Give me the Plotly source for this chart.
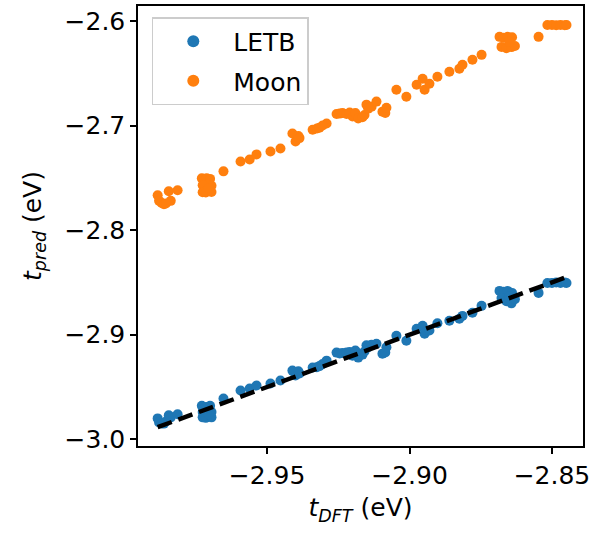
import plotly.graph_objects as go

# t_DFT values (eV)
t_dft = [
    -2.9884, -2.9879, -2.9870, -2.9862, -2.9855, -2.9845, -2.9838, -2.9814,
    -2.9729, -2.9720, -2.9712, -2.9700, -2.9726, -2.9695, -2.9726, -2.9715, -2.9695, -2.9705,
    -2.9653, -2.9593, -2.9561, -2.9537, -2.9488, -2.9453,
    -2.9411, -2.9400, -2.9390, -2.9386,
    -2.9340, -2.9325, -2.9316, -2.9291, -2.9305,
    -2.9256, -2.9245, -2.9235, -2.9221, -2.9210,
    -2.9200, -2.9190, -2.9180, -2.9165, -2.9158,
    -2.9151, -2.9145, -2.9133, -2.9116, -2.9095, -2.9085, -2.9081,
    -2.9046, -2.9011, -2.8975, -2.8954, -2.8947, -2.8930, -2.8902,
    -2.8860, -2.8825, -2.8814, -2.8779, -2.8747,
    -2.8684, -2.8670, -2.8655, -2.8640, -2.8677, -2.8660, -2.8642, -2.8630, -2.8650,
    -2.8547,
    -2.8516, -2.8500, -2.8485, -2.8470, -2.8455, -2.8449,
]

# predicted hopping, LETB model
t_letb = [
    -2.9800, -2.9840, -2.9848, -2.9850, -2.9830, -2.9770, -2.9790, -2.9760,
    -2.9680, -2.9700, -2.9690, -2.9680, -2.9740, -2.9740, -2.9790, -2.9795, -2.9790, -2.9760,
    -2.9610, -2.9533, -2.9514, -2.9486, -2.9467, -2.9438,
    -2.9343, -2.9390, -2.9350, -2.9370,
    -2.9314, -2.9310, -2.9300, -2.9248, -2.9280,
    -2.9171, -2.9180, -2.9175, -2.9171, -2.9165,
    -2.9200, -2.9152, -2.9219, -2.9190, -2.9160,
    -2.9100, -2.9120, -2.9095, -2.9086, -2.9181, -2.9170, -2.9120,
    -2.9010, -2.9057, -2.8943, -2.8914, -2.8990, -2.8960, -2.8890,
    -2.8867, -2.8848, -2.8820, -2.8790, -2.8724,
    -2.8581, -2.8590, -2.8581, -2.8600, -2.8650, -2.8680, -2.8700, -2.8660, -2.8630,
    -2.8600,
    -2.8505, -2.8505, -2.8500, -2.8505, -2.8500, -2.8505,
]

# predicted hopping, Moon model
t_moon = [
    -2.7667, -2.7720, -2.7740, -2.7752, -2.7745, -2.7629, -2.7720, -2.7619,
    -2.7505, -2.7520, -2.7505, -2.7510, -2.7571, -2.7575, -2.7638, -2.7640, -2.7635, -2.7600,
    -2.7438, -2.7343, -2.7324, -2.7276, -2.7248, -2.7219,
    -2.7076, -2.7152, -2.7100, -2.7120,
    -2.7040, -2.7029, -2.7020, -2.6981, -2.7000,
    -2.6890, -2.6886, -2.6880, -2.6890, -2.6875,
    -2.6914, -2.6880, -2.6933, -2.6920, -2.6900,
    -2.6800, -2.6838, -2.6820, -2.6771, -2.6867, -2.6880, -2.6830,
    -2.6657, -2.6724, -2.6610, -2.6552, -2.6657, -2.6600, -2.6533,
    -2.6486, -2.6457, -2.6419, -2.6371, -2.6324,
    -2.6152, -2.6160, -2.6152, -2.6155, -2.6248, -2.6260, -2.6250, -2.6240, -2.6200,
    -2.6152,
    -2.6038, -2.6038, -2.6040, -2.6038, -2.6040, -2.6038,
]

x_ticks = [-2.95, -2.90, -2.85]
x_tick_text = ["\u22122.95", "\u22122.90", "\u22122.85"]
y_ticks = [-3.0, -2.9, -2.8, -2.7, -2.6]
y_tick_text = ["\u22123.0", "\u22122.9", "\u22122.8", "\u22122.7", "\u22122.6"]

FONT = "DejaVu Sans"
fs = 25

fig = go.Figure()
fig.add_trace(go.Scatter(x=t_dft, y=t_letb, mode="markers", name="LETB", legendgroup="a",
                         marker=dict(color="#1f77b4", size=10, line=dict(width=0))))
fig.add_trace(go.Scatter(x=t_dft, y=t_moon, mode="markers", name="Moon", legendgroup="b",
                         marker=dict(color="#ff7f0e", size=10, line=dict(width=0))))
lo, hi = min(t_dft), max(t_dft)
fig.add_trace(go.Scatter(x=[lo, hi], y=[lo, hi], mode="lines", showlegend=False,
                         line=dict(color="black", width=4.5, dash="15px,7px")))

axis_common = dict(showgrid=False, zeroline=False, showline=True, linecolor="black",
                   linewidth=1.5, mirror=True, ticks="outside", ticklen=6, tickwidth=1.5,
                   tickcolor="black", tickfont=dict(family=FONT, size=fs, color="black"))

fig.update_layout(
    width=594, height=534,
    margin=dict(l=138, r=11, t=4, b=88),
    paper_bgcolor="white", plot_bgcolor="white",
    font=dict(family=FONT, size=fs, color="black"),
    xaxis=dict(range=[-2.9953, -2.8391], tickvals=x_ticks, ticktext=x_tick_text,
               title=dict(text="<i>t</i><sub><i>DFT</i></sub> (eV)", standoff=10,
                          font=dict(family=FONT, size=fs)), **axis_common),
    yaxis=dict(range=[-3.0064, -2.5857], tickvals=y_ticks, ticktext=y_tick_text,
               title=dict(text="<i>t</i><sub><i>pred</i></sub> (eV)", standoff=16,
                          font=dict(family=FONT, size=fs)), **axis_common),
    legend=dict(x=0.031, y=0.975, xanchor="left", yanchor="top",
                bgcolor="rgba(255,255,255,0.8)", bordercolor="#cccccc", borderwidth=1.5,
                font=dict(family=FONT, size=fs, color="black"), itemsizing="constant",
                itemwidth=70, traceorder="grouped", tracegroupgap=4,
                entrywidth=95, entrywidthmode="pixels"),
    showlegend=True,
)

fig.write_html("out.html")
